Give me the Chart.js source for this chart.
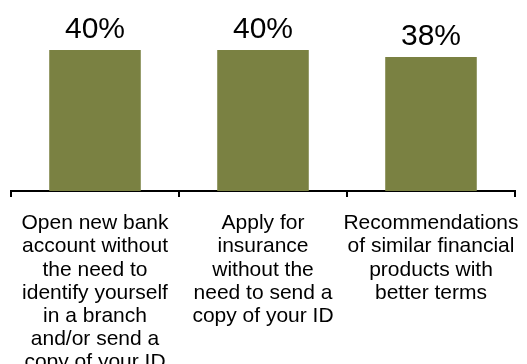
<!DOCTYPE html>
<html>
<head>
<meta charset="utf-8">
<script src="https://cdn.jsdelivr.net/npm/chart.js@4"></script>
<style>
  body { margin: 0; background: #fff; }
</style>
</head>
<body>
<canvas id="grafico" width="527" height="364"></canvas>
<script>
const categorias = [
  ["Open new bank", "account without", "the need to", "identify yourself", "in a branch", "and/or send a", "copy of your ID"],
  ["Apply for", "insurance", "without the", "need to send a", "copy of your ID"],
  ["Recommendations", "of similar financial", "products with", "better terms"]
];
const porcentajes = [40, 40, 38];

const fuente = "'Liberation Sans', Arial, sans-serif";

// etiquetas de valor encima de cada barra
const etiquetasValor = {
  id: "etiquetasValor",
  afterDatasetsDraw(chart) {
    const ctx = chart.ctx;
    const meta = chart.getDatasetMeta(0);
    ctx.save();
    ctx.fillStyle = "#000";
    ctx.font = "30px " + fuente;
    ctx.textAlign = "center";
    ctx.textBaseline = "alphabetic";
    meta.data.forEach((barra, i) => {
      ctx.fillText(porcentajes[i] + "%", barra.x, barra.y - 12);
    });
    ctx.restore();
  }
};

const canvas = document.getElementById("grafico");

new Chart(canvas, {
  type: "bar",
  data: {
    labels: categorias,
    datasets: [{
      data: porcentajes,
      backgroundColor: "#7a8142",
      barPercentage: 0.545,
      categoryPercentage: 1
    }]
  },
  options: {
    responsive: false,
    animation: false,
    layout: { padding: { top: 50, left: 11, right: 12, bottom: 0 } },
    plugins: {
      legend: { display: false },
      tooltip: { enabled: false }
    },
    scales: {
      x: {
        offset: true,
        grid: {
          offset: true,
          drawOnChartArea: false,
          drawTicks: true,
          tickLength: 6,
          lineWidth: 2,
          color: "#000"
        },
        border: { display: true, color: "#000", width: 2 },
        ticks: {
          color: "#000",
          font: { family: fuente, size: 21, lineHeight: 1.1 },
          padding: 15,
          maxRotation: 0,
          minRotation: 0,
          autoSkip: false
        },
        afterFit(scale) {
          scale.height = 173;
          scale.paddingLeft = 0;
          scale.paddingRight = 0;
        }
      },
      y: {
        display: false,
        min: 0,
        max: 40
      }
    }
  },
  plugins: [etiquetasValor]
});
</script>
</body>
</html>
